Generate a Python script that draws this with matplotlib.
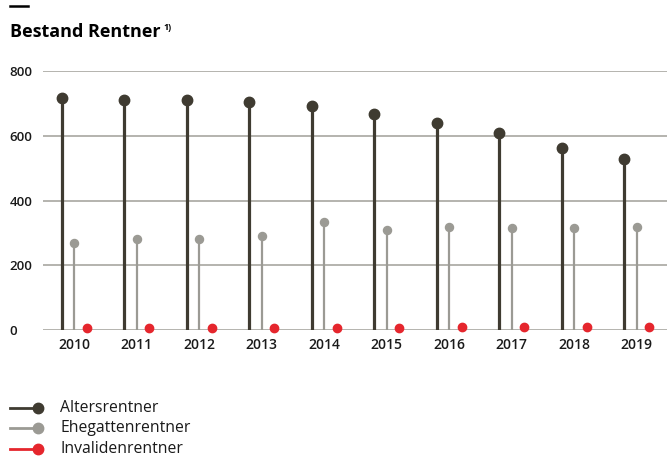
import numpy as np
import matplotlib.pyplot as plt
from matplotlib.lines import Line2D

plt.rcParams['font.family'] = ['Open Sans', 'DejaVu Sans']

# Daten
years = ['2010', '2011', '2012', '2013', '2014', '2015', '2016', '2017', '2018', '2019']
alters = [716, 710, 710, 704, 692, 667, 640, 607, 563, 527]
ehegatten = [269, 281, 281, 290, 334, 309, 318, 314, 314, 318]
invaliden = [5, 5, 6, 7, 6, 7, 10, 10, 9, 10]
series_names = ['Altersrentner', 'Ehegattenrentner', 'Invalidenrentner']

c_alt = '#3f3b31'
c_ehe = '#9b9a94'
c_inv = '#e5262d'
c_grid = '#a19f99'

fig = plt.figure(figsize=(6.67, 4.63), dpi=100)
ax = fig.add_axes([43 / 667, 1 - 330 / 463, 1 - 43 / 667, (330 - 71) / 463])

x = np.arange(len(years))
off = 0.2

for i in range(len(years)):
    ax.plot([x[i] - off, x[i] - off], [0, alters[i]], color=c_alt, lw=2.3, solid_capstyle='butt', zorder=3)
    ax.plot([x[i], x[i]], [0, ehegatten[i]], color=c_ehe, lw=1.6, solid_capstyle='butt', zorder=3)
ax.plot(x - off, alters, 'o', color=c_alt, ms=7.5, zorder=4, clip_on=False)
ax.plot(x, ehegatten, 'o', color=c_ehe, ms=5.8, zorder=4, clip_on=False)
ax.plot(x + off, invaliden, 'o', color=c_inv, ms=6, zorder=4, clip_on=False)

ax.set_ylim(0, 800)
ax.set_xlim(-0.496, 9.488)
ax.set_yticks([0, 200, 400, 600, 800])
ax.set_yticklabels(['0', '200', '400', '600', '800'], ha='left', fontsize=9.5, fontweight='semibold', color='#1a1a1a')
ax.set_xticks(x)
ax.set_xticklabels(years, fontsize=10, fontweight='semibold', color='#1a1a1a')
ax.tick_params(axis='y', length=0, pad=24)
ax.tick_params(axis='x', length=0, pad=6)
for s in ax.spines.values():
    s.set_visible(False)
ax.grid(axis='y', color=c_grid, lw=1.1, zorder=1)
ax.set_axisbelow(True)

# Titel
fig.add_artist(Line2D([10 / 667, 28 / 667], [1 - 6 / 463, 1 - 6 / 463], color='black', lw=1.8))
title = fig.text(10 / 667, 1 - 32 / 463, 'Bestand Rentner', fontsize=13, fontweight='bold', va='center', ha='left')
fig.canvas.draw()
bb = title.get_window_extent()
fig.text((bb.x1 + 3) / 667, 1 - 28 / 463, '1)', fontsize=6.5, fontweight='bold', va='center', ha='left')

# Legende
leg_y = [408, 428, 449]
leg_c = [c_alt, c_ehe, c_inv]
for name, yy, c in zip(series_names, leg_y, leg_c):
    fy = 1 - yy / 463
    fig.add_artist(Line2D([10 / 667, 38 / 667], [fy, fy], color=c, lw=2))
    fig.add_artist(Line2D([38 / 667], [fy], marker='o', color=c, ms=7.5))
    fig.text(60 / 667, fy, name, fontsize=11.3, va='center', ha='left', color='#1a1a1a')

fig.savefig('out.png', dpi=100)
